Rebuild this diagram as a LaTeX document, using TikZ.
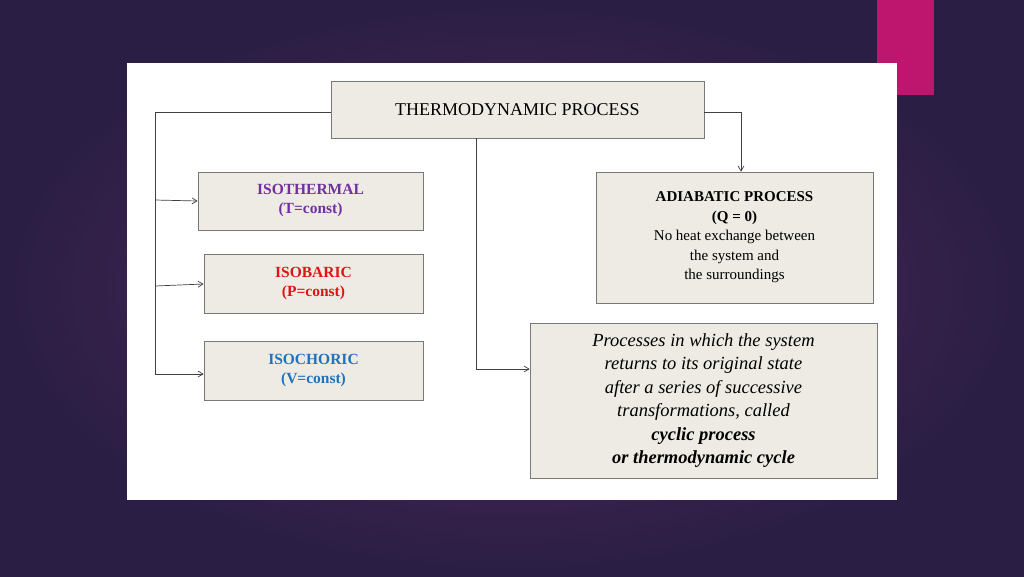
\documentclass[tikz,border=0pt]{standalone}
\usepackage{fontspec}
\setmainfont{Liberation Serif}
\usetikzlibrary{arrows.meta}
\definecolor{bgdark}{RGB}{42,30,68}
\definecolor{bgmid}{RGB}{88,42,96}
\definecolor{pinkbar}{RGB}{190,22,110}
\definecolor{boxfill}{RGB}{237,235,227}
\definecolor{boxline}{RGB}{120,120,120}
\definecolor{isoT}{RGB}{112,48,160}
\definecolor{isoP}{RGB}{225,20,20}
\definecolor{isoV}{RGB}{30,115,190}
\begin{document}
\begin{tikzpicture}[x=1pt,y=-1pt,
  pbox/.style={draw=boxline,fill=boxfill,line width=0.8pt,inner sep=0pt,align=center},
  conn/.style={draw=black!75,line width=0.7pt},
  arr/.style={conn,-{Straight Barb[length=5pt,width=6pt]}}]
\useasboundingbox (0,0) rectangle (1024,576);
\shade[inner color=bgmid,outer color=bgdark] (0,0) rectangle (1024,576);
\fill[pinkbar] (877,0) rectangle (934,95);
\fill[white] (127,63) rectangle (897,500);
\node[pbox,minimum width=373pt,minimum height=57pt,font=\fontsize{18}{20}\selectfont] (tp) at (517.5,109.5) {THERMODYNAMIC PROCESS};
\node[pbox,minimum width=225pt,minimum height=58pt,font=\bfseries\fontsize{15.5}{19}\selectfont,text=isoT] (it) at (310.5,201) {ISOTHERMAL\\(T=const)};
\node[pbox,minimum width=219pt,minimum height=59pt,font=\bfseries\fontsize{15.5}{19}\selectfont,text=isoP] (ip) at (313.5,283.5) {ISOBARIC\\(P=const)};
\node[pbox,minimum width=219pt,minimum height=59pt,font=\bfseries\fontsize{15.5}{19}\selectfont,text=isoV] (iv) at (313.5,370.5) {ISOCHORIC\\(V=const)};
\node[pbox,minimum width=277pt,minimum height=131pt,font=\fontsize{15}{19.5}\selectfont] (ad) at (734.5,237.5) {\textbf{ADIABATIC PROCESS}\\\textbf{(Q = 0)}\\No heat exchange between\\the system and\\the surroundings};
\node[pbox,minimum width=347pt,minimum height=155pt,font=\itshape\fontsize{18.5}{23.5}\selectfont] (cy) at (703.5,400.5) {Processes in which the system\\returns to its original state\\after a series of successive\\transformations, called\\\textbf{cyclic process}\\\textbf{or thermodynamic cycle}};
\coordinate (l1) at (155,112);
\coordinate (l2) at (155,374);
\draw[conn] (tp.west |- 0,112) -- (l1) -- (l2);
\draw[arr] (155,200) -- (it.west |- 0,201);
\draw[arr] (155,286) -- (ip.west |- 0,284);
\draw[arr] (l2) -- (iv.west |- 0,374);
\draw[arr] (476,138) -- (476,369) -- (cy.west |- 0,369);
\draw[arr] (tp.east |- 0,112) -- (741,112) -- (ad.north -| 741,0);
\end{tikzpicture}
\end{document}
